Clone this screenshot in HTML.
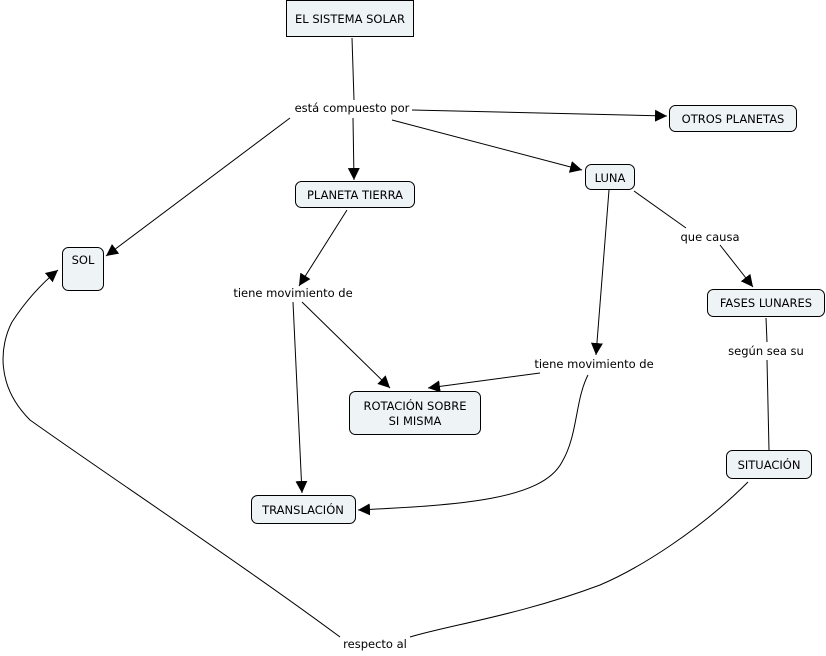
<!DOCTYPE html>
<html><head><meta charset="utf-8"><style>
html,body{margin:0;padding:0;background:#fff;width:826px;height:656px;overflow:hidden}
text{font-family:"DejaVu Sans","Liberation Sans",sans-serif;font-size:11.5px;fill:#000}
.n{fill:#eef3f6;stroke:#000;stroke-width:1}
.l{stroke:#000;stroke-width:1;fill:none}
</style></head><body>
<svg width="826" height="656" viewBox="0 0 826 656" xmlns="http://www.w3.org/2000/svg">
<defs><marker id="a" viewBox="0 0 10 10" refX="10" refY="5" markerWidth="12" markerHeight="12" markerUnits="userSpaceOnUse" orient="auto"><path d="M0,0L10,5L0,10z" fill="#000"/></marker></defs>
<g class="l">
<path d="M352,38L354,100"/>
<path d="M412,110L667,116" marker-end="url(#a)"/>
<path d="M392,120L582,170" marker-end="url(#a)"/>
<path d="M290,118L106,256" marker-end="url(#a)"/>
<path d="M353,118L354,180" marker-end="url(#a)"/>
<path d="M347,210L299,286" marker-end="url(#a)"/>
<path d="M302,302L390,388" marker-end="url(#a)"/>
<path d="M293,302L302,493" marker-end="url(#a)"/>
<path d="M609,190L596,355" marker-end="url(#a)"/>
<path d="M634,191L686,228"/>
<path d="M720,245L753,287" marker-end="url(#a)"/>
<path d="M540,373L428,388" marker-end="url(#a)"/>
<path d="M588,375C575,400 578,435 562,462C542,500 460,505 358,510" marker-end="url(#a)"/>
<path d="M766,318L767,342"/>
<path d="M767,360L769,450"/>
<path d="M748,482C700,530 640,568 600,585C520,615 450,625 410,637"/>
<path d="M340,637C250,570 100,470 30,420C-5,385 0,345 12,322C25,302 40,285 58,270" marker-end="url(#a)"/>
</g>
<rect class="n" x="286.5" y="0.5" width="127" height="36"/>
<rect class="n" x="669.5" y="105.5" width="127" height="26" rx="6"/>
<rect class="n" x="585.5" y="164.5" width="49" height="25" rx="6"/>
<rect class="n" x="295.5" y="181.5" width="119" height="26" rx="6"/>
<rect class="n" x="62.5" y="247.5" width="41" height="43" rx="6"/>
<rect class="n" x="707.5" y="289.5" width="117" height="27" rx="6"/>
<rect class="n" x="349.5" y="391.5" width="131" height="43" rx="6"/>
<rect class="n" x="726.5" y="450.5" width="85" height="28" rx="6"/>
<rect class="n" x="251.5" y="495.5" width="104" height="28" rx="6"/>
<g text-anchor="middle">
<text x="350" y="23">EL SISTEMA SOLAR</text>
<text x="733" y="123">OTROS PLANETAS</text>
<text x="610" y="182">LUNA</text>
<text x="355" y="199">PLANETA TIERRA</text>
<text x="83" y="264">SOL</text>
<text x="766" y="307">FASES LUNARES</text>
<text x="415" y="410">ROTACIÓN SOBRE</text>
<text x="415" y="425">SI MISMA</text>
<text x="769" y="469">SITUACIÓN</text>
<text x="303" y="514">TRANSLACIÓN</text>
<text x="352" y="112">está compuesto por</text>
<text x="293" y="297">tiene movimiento de</text>
<text x="710" y="241">que causa</text>
<text x="594" y="368">tiene movimiento de</text>
<text x="766" y="355">según sea su</text>
<text x="375" y="648">respecto al</text>
</g>
</svg>
</body></html>
